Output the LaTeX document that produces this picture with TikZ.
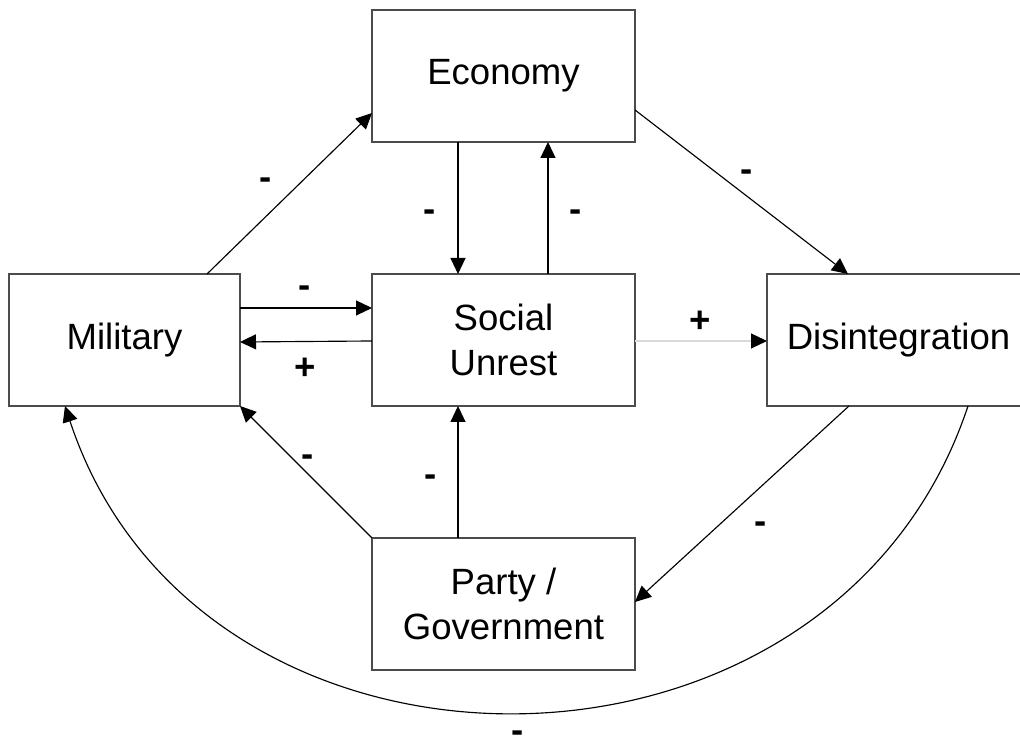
\documentclass[tikz,border=0pt]{standalone}
\usepackage{fontspec}
\setmainfont{Liberation Sans}
\usetikzlibrary{arrows.meta,calc}

\begin{document}
\begin{tikzpicture}[
    box/.style={draw=black!70, line width=.6pt, minimum width=5.26cm, minimum height=2.64cm,
        inner sep=0pt, outer sep=0pt, align=center, font=\fontsize{20.8}{26}\selectfont},
    link/.style={line width=.65pt, -{Triangle[length=.32cm,width=.3cm]}},
    greylink/.style={link, draw=black!15, -{Triangle[length=.32cm,width=.3cm,black]}},
    sign/.style={inner sep=0pt, anchor=base, font=\fontsize{20.8}{26}\selectfont\bfseries},
]
    \useasboundingbox (0,0) rectangle (20.4,14.76);

    % the five boxes
    \node[box] (eco) at (10.07,13.24) {Economy};
    \node[box] (soc) at (10.07,7.96) {Social\\Unrest};
    \node[box, minimum width=4.62cm] (mil) at (2.49,7.96) {Military};
    \node[box] (dis) at (17.97,7.96) {Disintegration};
    \node[box] (par) at (10.07,2.68) {Party /\\Government};

    % influences
    \draw[link] ([xshift=-.66cm]mil.north east) -- ([yshift=.58cm]eco.south west);
    \draw[link] ([xshift=-.91cm]eco.south) -- ([xshift=-.91cm]soc.north);
    \draw[link] ([xshift=.89cm]soc.north) -- ([xshift=.89cm]eco.south);
    \draw[link] ([yshift=-.68cm]eco.east) -- ([xshift=-1.01cm]dis.north);
    \draw[link] ([yshift=.64cm]mil.east) -- ([yshift=.64cm]soc.west);
    \draw[link] ([yshift=-.02cm]soc.west) -- ([yshift=-.04cm]mil.east);
    \draw[greylink] ([yshift=-.02cm]soc.east) -- ([yshift=-.02cm]dis.west);
    \draw[link] ([xshift=-.91cm]par.north) -- ([xshift=-.91cm]soc.south);
    \draw[link] (par.north west) -- (mil.south east);
    \draw[link] ([xshift=-.99cm]dis.south) -- ([yshift=.04cm]par.east);
    \draw[link] ([xshift=1.39cm]dis.south) .. controls (16.66,-1.5) and (4.0,-1.54)
        .. ([xshift=-1.19cm]mil.south);

    % signs
    \node[sign] (sA) at (5.32,10.975) {-};
    \node[sign] (sB) at (8.6,10.335) {-};
    \node[sign] (sC) at (11.52,10.335) {-};
    \node[sign] (sD) at (14.94,11.135) {-};
    \node[sign] (sE) at (6.1,8.815) {-};
    \node[sign] (sF) at (6.1,7.17) {+};
    \node[sign] (sG) at (14.0,8.11) {+};
    \node[sign] (sH) at (8.62,5.035) {-};
    \node[sign] (sI) at (6.16,5.435) {-};
    \node[sign] (sJ) at (15.22,4.095) {-};
    \node[sign] (sK) at (10.36,-.1) {-};
\end{tikzpicture}
\end{document}
